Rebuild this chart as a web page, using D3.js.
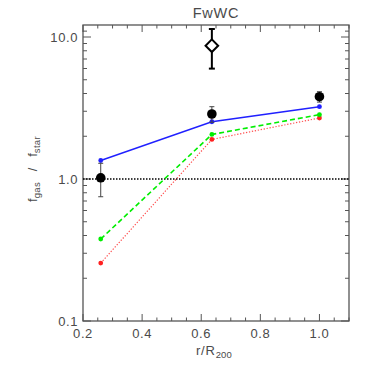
<!DOCTYPE html>
<html><head><meta charset="utf-8">
<script src="https://cdn.jsdelivr.net/npm/d3@7"></script>
<style>body{margin:0;background:#fff}svg{display:block}text{font-family:"Liberation Sans",Arial,sans-serif;fill:#4a4a4a}</style>
</head><body><svg id="c" width="374" height="374"></svg>
<script>
const radii = [0.26, 0.636, 1.0];
const blueVals = [1.35, 2.53, 3.23];
const greenVals = [0.378, 2.06, 2.84];
const redVals = [0.256, 1.90, 2.69];
const obsVals = [1.02, 2.87, 3.80];
const obsErr = [0.27, 0.36, 0.32];
const diamondX = [0.636];
const diamondVal = [8.69];
const diamondErr = [2.7];
const xTicks = [0.2, 0.4, 0.6, 0.8, 1.0];
const yTicks = [0.1, 1.0, 10.0];
const yTickLabels = ["0.1", "1.0", "10.0"];

const svg = d3.select("#c");
const L = 83, R = 349, T = 25, B = 321;
const x = d3.scaleLinear().domain([0.2, 1.1]).range([L, R]);
const y = d3.scaleLog().domain([0.1, 12.15]).range([B, T]);
const axisCol = "#555";

const xMinor = d3.range(0.2, 1.1001, 0.05).filter(v => Math.abs(v*5 - Math.round(v*5)) > 1e-6);
const yMinor = [];
[0.1, 1].forEach(d => { for (let k = 2; k <= 9; k++) { const v = d*k; if (v <= 12.15) yMinor.push(v); } });
yMinor.push(11);

const g = svg.append("g");
g.append("rect").attr("x", L).attr("y", T).attr("width", R-L).attr("height", B-T)
  .attr("fill", "none").attr("stroke", axisCol).attr("stroke-width", 1.3);

xTicks.forEach(v => {
  g.append("line").attr("x1", x(v)).attr("x2", x(v)).attr("y1", B).attr("y2", B-7).attr("stroke", axisCol);
  g.append("line").attr("x1", x(v)).attr("x2", x(v)).attr("y1", T).attr("y2", T+7).attr("stroke", axisCol);
  g.append("text").attr("x", x(v)).attr("y", 338).attr("text-anchor", "middle").attr("font-size", 13)
    .attr("letter-spacing", 0.6).text(v.toFixed(1));
});
xMinor.forEach(v => {
  g.append("line").attr("x1", x(v)).attr("x2", x(v)).attr("y1", B).attr("y2", B-3.5).attr("stroke", axisCol);
  g.append("line").attr("x1", x(v)).attr("x2", x(v)).attr("y1", T).attr("y2", T+3.5).attr("stroke", axisCol);
});
yTicks.forEach((v, i) => {
  g.append("line").attr("x1", L).attr("x2", L+8).attr("y1", y(v)).attr("y2", y(v)).attr("stroke", axisCol);
  g.append("line").attr("x1", R).attr("x2", R-8).attr("y1", y(v)).attr("y2", y(v)).attr("stroke", axisCol);
  g.append("text").attr("x", L-5).attr("y", y(v)+5).attr("text-anchor", "end").attr("font-size", 13)
    .attr("letter-spacing", 0.6).text(yTickLabels[i]);
});
yMinor.forEach(v => {
  g.append("line").attr("x1", L).attr("x2", L+4).attr("y1", y(v)).attr("y2", y(v)).attr("stroke", axisCol);
  g.append("line").attr("x1", R).attr("x2", R-4).attr("y1", y(v)).attr("y2", y(v)).attr("stroke", axisCol);
});

g.append("text").attr("x", 216).attr("y", 18).attr("text-anchor", "middle").attr("font-size", 14.5)
  .attr("letter-spacing", 0.8).text("FwWC");
const xl = g.append("text").attr("x", 214).attr("y", 355).attr("text-anchor", "middle").attr("font-size", 13).attr("letter-spacing", 0.8);
xl.append("tspan").text("r/R");
xl.append("tspan").attr("font-size", 9.5).attr("dy", 3).attr("letter-spacing", 0.2).text("200");
const yl = g.append("text").attr("transform", "translate(37,169) rotate(-90)").attr("text-anchor", "middle").attr("font-size", 13);
yl.append("tspan").text("f");
yl.append("tspan").attr("font-size", 9.5).attr("dy", 3).attr("letter-spacing", 0.3).text("gas");
yl.append("tspan").attr("dy", -3).text("\u00a0\u00a0\u00a0/\u00a0\u00a0\u00a0f");
yl.append("tspan").attr("font-size", 9.5).attr("dy", 3).attr("letter-spacing", 0.3).text("star");

g.append("line").attr("x1", L).attr("x2", R).attr("y1", y(1)).attr("y2", y(1))
  .attr("stroke", "#000").attr("stroke-width", 1.6).attr("stroke-dasharray", "1.5,1.5");

const line = d3.line().x((d, i) => x(radii[i])).y(d => y(d));
const series = [
  {vals: redVals, col: "#ff2020", lcol: "#ff5050", dash: "1.3,1.7", w: 1.2},
  {vals: greenVals, col: "#00ee00", lcol: "#00ee00", dash: "5,3", w: 1.6},
  {vals: blueVals, col: "#2020ff", lcol: "#2020ff", dash: null, w: 1.4}
];
series.forEach(s => {
  g.append("path").attr("d", line(s.vals)).attr("fill", "none").attr("stroke", s.lcol)
    .attr("stroke-width", s.w).attr("stroke-dasharray", s.dash);
  g.selectAll(null).data(s.vals).enter().append("circle")
    .attr("cx", (d, i) => x(radii[i])).attr("cy", d => y(d)).attr("r", 2.4).attr("fill", s.col);
});

obsVals.forEach((v, i) => {
  const cx = x(radii[i]);
  const y1 = y(v - obsErr[i]), y2 = y(v + obsErr[i]);
  g.append("line").attr("x1", cx).attr("x2", cx).attr("y1", y1).attr("y2", y2).attr("stroke", "#444").attr("stroke-width", 1);
  [y1, y2].forEach(yy => g.append("line").attr("x1", cx-2.5).attr("x2", cx+2.5).attr("y1", yy).attr("y2", yy).attr("stroke", "#444"));
  g.append("circle").attr("cx", cx).attr("cy", y(v)).attr("r", 4.8).attr("fill", "#000");
});

diamondVal.forEach((v, i) => {
  const cx = x(diamondX[i]);
  const y1 = y(v - diamondErr[i]), y2 = y(v + diamondErr[i]);
  g.append("line").attr("x1", cx).attr("x2", cx).attr("y1", y1).attr("y2", y2).attr("stroke", "#000").attr("stroke-width", 2);
  [y1, y2].forEach(yy => g.append("line").attr("x1", cx-3).attr("x2", cx+3).attr("y1", yy).attr("y2", yy).attr("stroke", "#000").attr("stroke-width", 2));
  const cy = y(v), s = 6.3;
  g.append("path").attr("d", `M${cx},${cy-s}L${cx+s},${cy}L${cx},${cy+s}L${cx-s},${cy}Z`)
    .attr("fill", "#fff").attr("stroke", "#000").attr("stroke-width", 2);
});
</script></body></html>
